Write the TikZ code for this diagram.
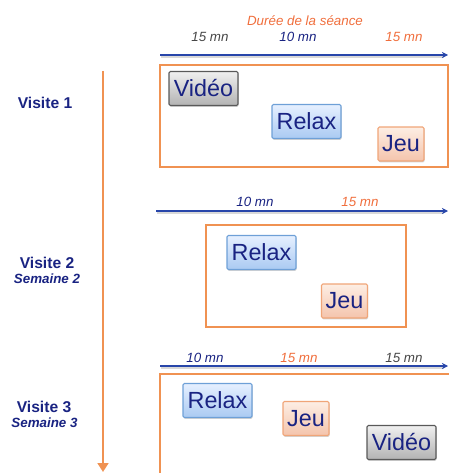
\documentclass[tikz,border=0pt]{standalone}
\usepackage{fontspec}
\setmainfont{Liberation Sans}
\usepackage{tikz}
\usetikzlibrary{arrows.meta, calc, positioning, shadows}
\definecolor{lineOrange}{RGB}{240,146,82}
\definecolor{titleOrange}{RGB}{240,110,60}
\definecolor{axisBlue}{RGB}{40,70,170}
\definecolor{navyText}{RGB}{25,35,130}
\definecolor{subGray}{RGB}{70,70,70}

\begin{document}
\begin{tikzpicture}[x=0.02cm, y=-0.02cm, >={Stealth[length=3.5pt, width=3.5pt]},
    activity/.style={draw, line width=0.6pt, inner sep=0pt, minimum height=0.68cm, rounded corners=0.8pt,
        text=navyText, font=\fontsize{13.3}{14}\selectfont,
        drop shadow={opacity=0.35, shadow xshift=0.4pt, shadow yshift=-0.8pt}},
    video/.style={activity, minimum width=1.38cm, draw=black!65, top color=black!6, bottom color=black!30},
    relax/.style={activity, minimum width=1.38cm, draw={rgb,255:red,110;green,160;blue,215}, top color={rgb,255:red,230;green,240;blue,255}, bottom color={rgb,255:red,170;green,202;blue,242}},
    jeu/.style={activity, minimum width=0.92cm, draw={rgb,255:red,240;green,165;blue,120}, top color={rgb,255:red,253;green,238;blue,228}, bottom color={rgb,255:red,244;green,196;blue,172}},
    visite/.style={text=navyText, font=\fontsize{8.9}{10}\bfseries\selectfont},
    semaine/.style={text=navyText, font=\fontsize{7.6}{9}\bfseries\itshape\selectfont},
    duree/.style={font=\fontsize{7.6}{9}\itshape\selectfont},
    axis/.style={->, line width=1.1pt, axisBlue},
    session/.style={draw=lineOrange, line width=1.1pt}]
    \useasboundingbox (0,0) rectangle (449,473);
    \clip (0,0) rectangle (449,473);

    % Time line of the visits
    \coordinate (T1) at (103,71);
    \coordinate (T2) at (103,472);
    \draw[-{Triangle[length=5pt, width=6pt]}, lineOrange, line width=1.7pt] (T1)--(T2);

    \node[visite] (v1) at (45,103) {Visite 1};
    \node[visite] (v2) at (47,263) {Visite 2};
    \node[semaine] (s2) at (47,279) {Semaine 2};
    \node[visite] (v3) at (44,407) {Visite 3};
    \node[semaine] (s3) at (44.5,423) {Semaine 3};

    % Visite 1
    \node[duree, titleOrange] (titre) at (305,21) {Durée de la séance};
    \node[duree, subGray] (d11) at (210,37) {15 mn};
    \node[duree, navyText] (d12) at (298,37) {10 mn};
    \node[duree, titleOrange] (d13) at (404,37) {15 mn};
    \coordinate (A1) at (160,55);
    \coordinate (B1) at (448,55);
    \draw[black!15, line width=1pt] ($(A1)+(1,2)$)--($(B1)+(-4,2)$);
    \draw[axis] (A1)--(B1);
    \draw[session] (160,65) rectangle (448,167);
    \node[video] (vid1) at (203.5,88.5) {Vidéo};
    \node[relax] (rel1) at (306.5,121.5) {Relax};
    \node[jeu] (jeu1) at (401,144) {Jeu};

    % Visite 2
    \node[duree, navyText] (d21) at (255,202) {10 mn};
    \node[duree, titleOrange] (d22) at (360,202) {15 mn};
    \coordinate (A2) at (156,211);
    \coordinate (B2) at (448,211);
    \draw[black!15, line width=1pt] ($(A2)+(1,2)$)--($(B2)+(-4,2)$);
    \draw[axis] (A2)--(B2);
    \draw[session] (206,225) rectangle (406,327);
    \node[relax] (rel2) at (261.5,252.5) {Relax};
    \node[jeu] (jeu2) at (344.5,301) {Jeu};

    % Visite 3
    \node[duree, navyText] (d31) at (205,358) {10 mn};
    \node[duree, titleOrange] (d32) at (299,358) {15 mn};
    \node[duree, subGray] (d33) at (404,358) {15 mn};
    \coordinate (A3) at (160,366);
    \coordinate (B3) at (448,366);
    \draw[black!15, line width=1pt] ($(A3)+(1,2)$)--($(B3)+(-4,2)$);
    \draw[axis] (A3)--(B3);
    \draw[session] (160,374) rectangle (470,490);
    \node[relax] (rel3) at (217.5,400.5) {Relax};
    \node[jeu] (jeu3) at (306,418.5) {Jeu};
    \node[video] (vid3) at (401.5,442.5) {Vidéo};
\end{tikzpicture}
\end{document}
